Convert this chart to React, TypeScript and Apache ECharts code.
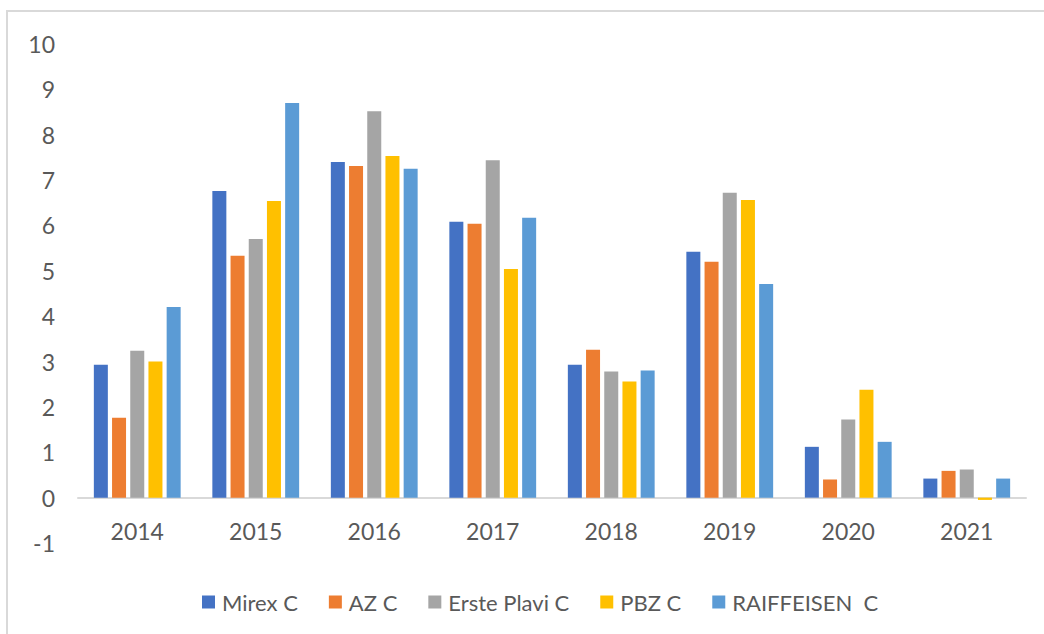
import React, { useEffect, useRef } from "react";
import * as echarts from "echarts";

const categories = ["2014", "2015", "2016", "2017", "2018", "2019", "2020", "2021"];
const seriesNames = ["Mirex C", "AZ C", "Erste Plavi C", "PBZ C", "RAIFFEISEN  C"];
const mirex = [2.93, 6.76, 7.4, 6.08, 2.93, 5.42, 1.12, 0.42];
const az = [1.76, 5.33, 7.31, 6.04, 3.26, 5.2, 0.4, 0.59];
const erste = [3.24, 5.7, 8.52, 7.44, 2.78, 6.72, 1.72, 0.62];
const pbz = [3.0, 6.54, 7.53, 5.04, 2.56, 6.56, 2.38, -0.05];
const raif = [4.2, 8.7, 7.25, 6.17, 2.8, 4.71, 1.23, 0.42];
const colors = ["#4472C4", "#ED7D31", "#A5A5A5", "#FFC000", "#5B9BD5"];

export default function App() {
  const ref = useRef<HTMLDivElement>(null);
  useEffect(() => {
    if (!ref.current) return;
    const chart = echarts.init(ref.current, undefined, { renderer: "svg" });
    const data = [mirex, az, erste, pbz, raif];
    const font = "Lato";
    chart.setOption({
      animation: false,
      backgroundColor: "#ffffff",
      color: colors,
      textStyle: { fontFamily: font },
      graphic: [
        {
          type: "polyline",
          shape: { points: [[7, 700], [7, 11], [1100, 11]] },
          style: { stroke: "#D9D9D9", lineWidth: 2, fill: "none" },
          silent: true,
        },
      ],
      grid: { left: 78, right: 18, top: 44, bottom: 91 },
      legend: {
        left: 197,
        top: 586,
        itemWidth: 13,
        itemHeight: 13,
        itemGap: 31,
        icon: "rect",
        textStyle: { color: "#595959", fontSize: 22, fontFamily: font, padding: [0, 0, 0, 2] },
        data: seriesNames,
      },
      xAxis: {
        type: "category",
        data: categories,
        axisLine: { onZero: true, lineStyle: { color: "#D9D9D9", width: 2 } },
        axisTick: { show: false },
        axisLabel: { color: "#595959", fontSize: 23, fontFamily: font, margin: -24 },
      },
      yAxis: {
        type: "value",
        min: -1,
        max: 10,
        interval: 1,
        splitLine: { show: false },
        axisLine: { show: false },
        axisTick: { show: false },
        axisLabel: { color: "#595959", fontSize: 23, fontFamily: font, margin: 23 },
      },
      series: seriesNames.map((name, i) => ({
        name,
        type: "bar",
        data: data[i],
        barWidth: 14,
        barGap: "30%",
        itemStyle: { color: colors[i] },
      })),
    });
    return () => chart.dispose();
  }, []);
  return (
    <div
      ref={ref}
      style={{ position: "fixed", left: 0, top: 0, width: 1044, height: 634, background: "#fff" }}
    />
  );
}
